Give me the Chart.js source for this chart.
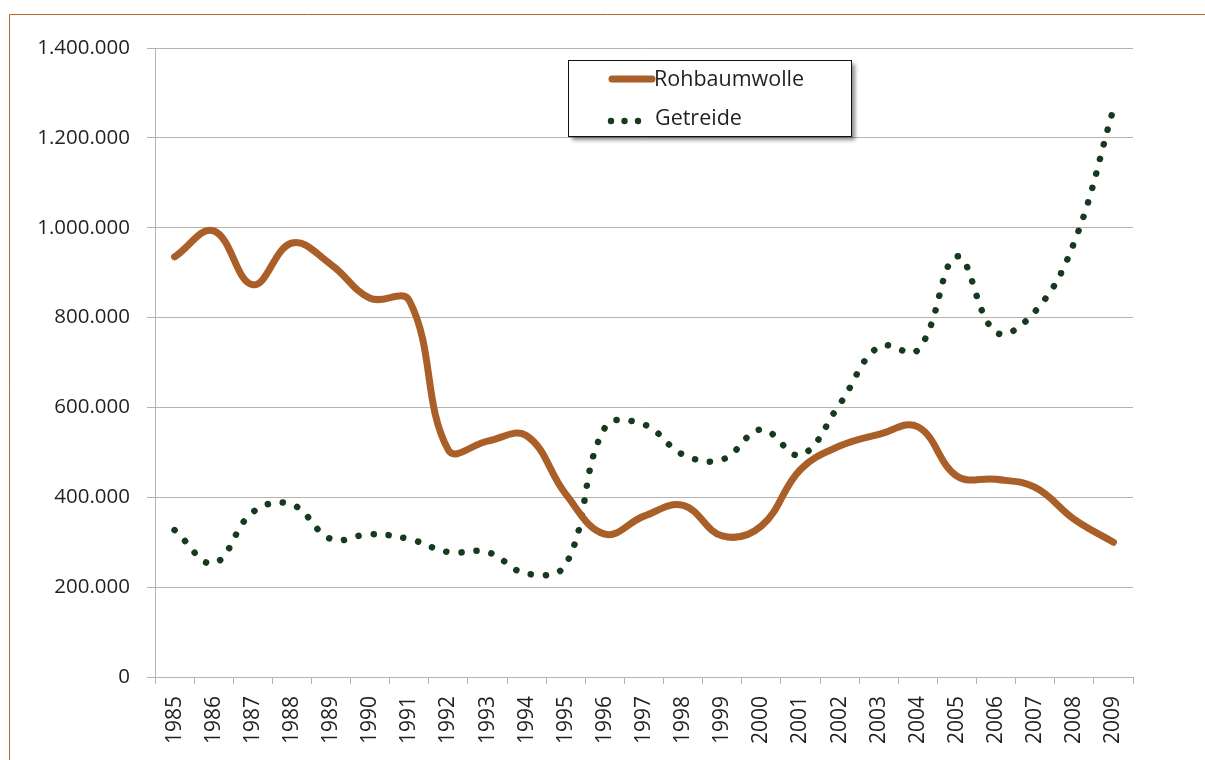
<!DOCTYPE html>
<html>
<head>
<meta charset="utf-8">
<script src="https://cdn.jsdelivr.net/npm/chart.js@4/dist/chart.umd.min.js"></script>
<style>
  html, body { margin: 0; padding: 0; background: #fff; }
  #chart { display: block; }
</style>
</head>
<body>
<canvas id="chart" width="1205" height="760"></canvas>
<script>
// Data
const years = ['1985', '1986', '1987', '1988', '1989', '1990', '1991', '1992', '1993', '1994',
               '1995', '1996', '1997', '1998', '1999', '2000', '2001', '2002', '2003', '2004',
               '2005', '2006', '2007', '2008', '2009'];

const rohbaumwolle = [935000, 993000, 873000, 966000, 918000, 843000, 838000, 505000, 525000, 537000,
                      407000, 318000, 358000, 382000, 314000, 336000, 462000, 514000, 540000, 557000,
                      447000, 440000, 422000, 351000, 300000];

const getreide = [327000, 253000, 367000, 384000, 307000, 318000, 307000, 278000, 278000, 230000,
                  250000, 555000, 562000, 495000, 484000, 551000, 494000, 607000, 735000, 728000,
                  936000, 767000, 814000, 968000, 1264000];

const yTicks = [0, 200000, 400000, 600000, 800000, 1000000, 1200000, 1400000];

const FONT = '"Open Sans", "DejaVu Sans", sans-serif';
const TEXT_COLOR = '#231f20';
const GRID_COLOR = '#b3b3b3';

// German thousands separator
function formatDe(v) {
    return String(v).replace(/\B(?=(\d{3})+(?!\d))/g, '.');
}

// Orange frame at top and left of the page
const framePlugin = {
    id: 'frame',
    beforeDraw(chart) {
        const ctx = chart.ctx;
        ctx.save();
        ctx.strokeStyle = '#b8672d';
        ctx.lineWidth = 1;
        ctx.beginPath();
        ctx.moveTo(9.5, chart.height);
        ctx.lineTo(9.5, 14.5);
        ctx.lineTo(chart.width, 14.5);
        ctx.stroke();
        ctx.restore();
    }
};

// Boxed legend with drop shadow, placed inside the plot
const boxLegendPlugin = {
    id: 'boxLegend',
    afterDraw(chart) {
        const ctx = chart.ctx;
        const box = { x: 568.5, y: 60.5, w: 283, h: 76 };
        ctx.save();
        ctx.shadowColor = 'rgba(0,0,0,0.45)';
        ctx.shadowBlur = 4;
        ctx.shadowOffsetX = 3;
        ctx.shadowOffsetY = 3;
        ctx.fillStyle = '#fff';
        ctx.fillRect(box.x, box.y, box.w, box.h);
        ctx.restore();

        ctx.save();
        ctx.strokeStyle = '#111';
        ctx.lineWidth = 1;
        ctx.strokeRect(box.x, box.y, box.w, box.h);

        const ds = chart.data.datasets;
        // Rohbaumwolle sample
        ctx.strokeStyle = ds[0].borderColor;
        ctx.lineWidth = 7;
        ctx.lineCap = 'round';
        ctx.beginPath();
        ctx.moveTo(612, 79);
        ctx.lineTo(652, 79);
        ctx.stroke();
        // Getreide sample
        ctx.fillStyle = ds[1].borderColor;
        [611, 624.5, 638].forEach(x => {
            ctx.beginPath();
            ctx.arc(x, 121, 3.2, 0, Math.PI * 2);
            ctx.fill();
        });

        ctx.fillStyle = TEXT_COLOR;
        ctx.font = '21.5px ' + FONT;
        ctx.textBaseline = 'middle';
        ctx.textAlign = 'left';
        ctx.fillText(ds[0].label, 654, 80);
        ctx.fillText(ds[1].label, 655, 119);
        ctx.restore();
    }
};

new Chart(document.getElementById('chart'), {
    type: 'line',
    data: {
        labels: years,
        datasets: [
            {
                label: 'Rohbaumwolle',
                data: rohbaumwolle,
                borderColor: '#aa5f28',
                borderWidth: 7,
                borderCapStyle: 'round',
                borderJoinStyle: 'round',
                pointRadius: 0,
                tension: 0.4,
                fill: false,
            },
            {
                label: 'Getreide',
                data: getreide,
                borderColor: '#163a1d',
                borderWidth: 6.5,
                borderCapStyle: 'round',
                borderDash: [0.1, 15],
                pointRadius: 0,
                tension: 0.4,
                fill: false,
            }
        ]
    },
    options: {
        responsive: false,
        animation: false,
        devicePixelRatio: 1,
        layout: { padding: { left: 0, top: 48, right: 72, bottom: 0 } },
        plugins: {
            legend: { display: false },
            tooltip: { enabled: false },
        },
        scales: {
            x: {
                offset: true,
                grid: {
                    offset: true,
                    drawOnChartArea: false,
                    drawTicks: true,
                    tickLength: 7,
                    color: GRID_COLOR,
                },
                border: { display: true, color: GRID_COLOR },
                ticks: {
                    minRotation: 90,
                    maxRotation: 90,
                    autoSkip: false,
                    padding: 12,
                    color: TEXT_COLOR,
                    font: { family: FONT, size: 21 },
                },
                afterFit: scale => { scale.height = 83; },
            },
            y: {
                min: 0,
                max: 1400000,
                afterBuildTicks: scale => { scale.ticks = yTicks.map(v => ({ value: v })); },
                grid: {
                    color: GRID_COLOR,
                    tickLength: 8,
                },
                border: { display: true, color: GRID_COLOR },
                ticks: {
                    padding: 17,
                    color: TEXT_COLOR,
                    font: { family: FONT, size: 20.5 },
                    callback: v => formatDe(v),
                },
                afterFit: scale => { scale.width = 155; },
            }
        }
    },
    plugins: [framePlugin, boxLegendPlugin]
});
</script>
</body>
</html>
